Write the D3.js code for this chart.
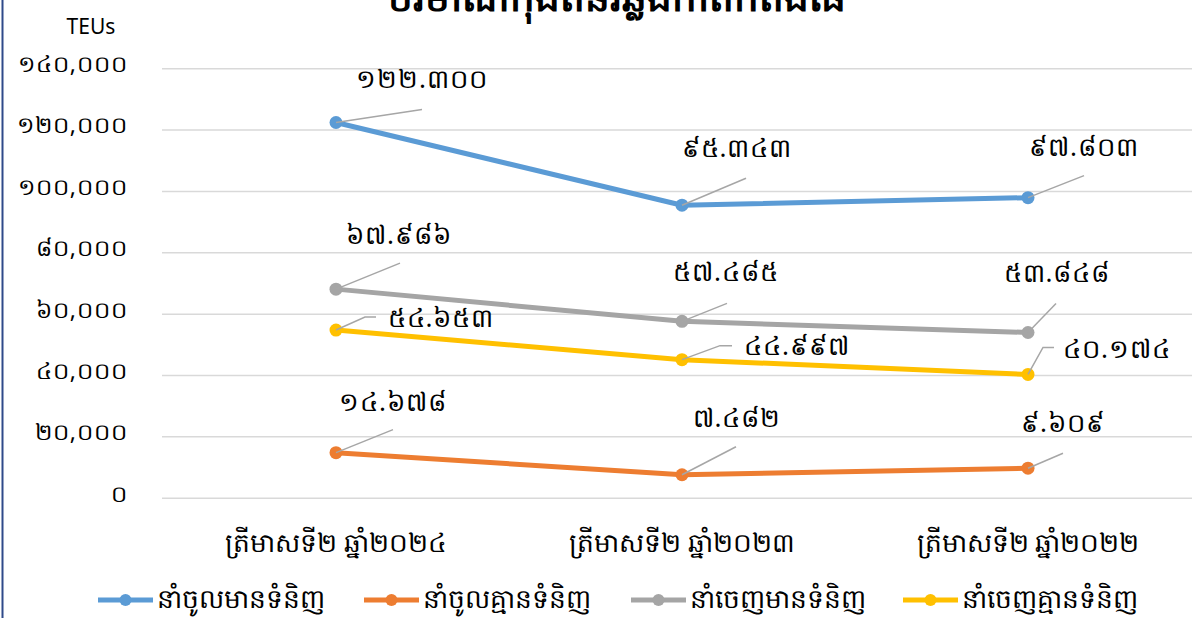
<!DOCTYPE html>
<html>
<head>
<meta charset="utf-8">
<script src="https://cdnjs.cloudflare.com/ajax/libs/d3/7.8.5/d3.min.js"></script>
<style>
  body { margin: 0; background: #fff; overflow: hidden; }
  text { font-family: "Noto Sans", "DejaVu Sans", sans-serif; fill: #000; }
</style>
</head>
<body>
<div id="chart"></div>
<script>
// chart data
var categories = ["ត្រីមាសទី២ ឆ្នាំ២០២៤", "ត្រីមាសទី២ ឆ្នាំ២០២៣", "ត្រីមាសទី២ ឆ្នាំ២០២២"];
var seriesNames = ["នាំចូលមានទំនិញ", "នាំចូលគ្មានទំនិញ", "នាំចេញមានទំនិញ", "នាំចេញគ្មានទំនិញ"];
var importFull = [122300, 95343, 97803];
var importEmpty = [14678, 7482, 9609];
var exportFull = [67986, 57485, 53848];
var exportEmpty = [54653, 44997, 40174];
var yTicks = [0, 20000, 40000, 60000, 80000, 100000, 120000, 140000];
var titleText = "បរិមាណកុងតឺន័រឆ្លងកាត់កំពង់ផែ";
var unitText = "TEUs";

// colours
var colors = ["#5B9BD5", "#ED7D31", "#A5A5A5", "#FFC000"];

// label placement relative to the point: [label dx, label dy, leader dx, leader dy, elbow]
var labelOffsets = [
  [[86, -44, 86, -13, 0], [55, -57, 64, -27, 0], [56, -51, 56, -22, 0]],
  [[57, -51, 57, -23, 0], [55, -57, 54, -28, 0], [35, -45, 35, -15, 0]],
  [[63, -54, 64, -26, 0], [44, -49, 45, -18, 0], [29, -60, 28, -29, 0]],
  [[105, -12, 29, -13, 11], [115, -14, 38, -14, 12], [89, -26, 15, -27, 11]]
];

var svgWidth = 1192;
var svgHeight = 618;

var khmerDigits = ["០", "១", "២", "៣", "៤", "៥", "៦", "៧", "៨", "៩"];
var axisFormat = d3.formatLocale({decimal: ".", thousands: ",", grouping: [3], currency: ["", ""], numerals: khmerDigits}).format(",");
var labelFormat = d3.formatLocale({decimal: ",", thousands: ".", grouping: [3], currency: ["", ""], numerals: khmerDigits}).format(",");

var svg = d3.select("#chart").append("svg")
  .attr("width", svgWidth)
  .attr("height", svgHeight);

// scales
var xScale = d3.scaleBand()
  .domain(categories)
  .range([163, 1201]);

var yScale = d3.scaleLinear()
  .domain([0, 140000])
  .range([497.7, 68.2]);

var xPos = function(c) { return xScale(c) + xScale.bandwidth() / 2; };

// gridlines + y labels
var yAxis = d3.axisLeft(yScale)
  .tickValues(yTicks)
  .tickSize(-(svgWidth - 162))
  .tickPadding(34)
  .tickFormat(axisFormat);

var yAxisG = svg.append("g")
  .attr("transform", "translate(162,0)")
  .call(yAxis);
yAxisG.select(".domain").remove();
yAxisG.selectAll(".tick line").attr("stroke", "#D9D9D9").attr("stroke-width", 1.5);
yAxisG.selectAll(".tick text")
  .attr("font-size", 23)
  .attr("dy", "0.32em")
  .attr("y", -4)
  .attr("fill", "#000")
  .style("letter-spacing", "1px");

// x labels
var xAxis = d3.axisBottom(xScale).tickSize(0).tickPadding(0);
var xAxisG = svg.append("g")
  .attr("transform", "translate(0,536)")
  .call(xAxis);
xAxisG.select(".domain").remove();
xAxisG.selectAll(".tick text")
  .attr("font-size", 26.5)
  .attr("dy", "0.6em")
  .attr("fill", "#000");

// unit + title
svg.append("text")
  .attr("x", 91)
  .attr("y", 34)
  .attr("text-anchor", "middle")
  .attr("font-size", 21)
  .text(unitText);

svg.append("text")
  .attr("x", 617)
  .attr("y", 11)
  .attr("text-anchor", "middle")
  .attr("font-size", 39)
  .attr("font-weight", "bold")
  .text(titleText);

// series
var allSeries = [importFull, importEmpty, exportFull, exportEmpty];

var line = d3.line()
  .x(function(d, i) { return xPos(categories[i]); })
  .y(function(d) { return yScale(d); });

allSeries.forEach(function(values, s) {
  var g = svg.append("g");

  g.append("path")
    .datum(values)
    .attr("d", line)
    .attr("fill", "none")
    .attr("stroke", colors[s])
    .attr("stroke-width", 5)
    .attr("stroke-linejoin", "round");

  g.selectAll("circle")
    .data(values)
    .enter()
    .append("circle")
    .attr("cx", function(d, i) { return xPos(categories[i]); })
    .attr("cy", function(d) { return yScale(d); })
    .attr("r", 6.5)
    .attr("fill", colors[s]);
});

// data labels with leader lines
allSeries.forEach(function(values, s) {
  var g = svg.append("g");
  values.forEach(function(v, i) {
    var px = xPos(categories[i]);
    var py = yScale(v);
    var o = labelOffsets[s][i];
    var pts = [[px, py], [px + o[2], py + o[3]]];
    if (o[4]) pts.push([px + o[2] + o[4], py + o[3]]);

    g.append("path")
      .attr("d", d3.line()(pts))
      .attr("fill", "none")
      .attr("stroke", "#A6A6A6")
      .attr("stroke-width", 1.5);

    g.append("text")
      .attr("x", px + o[0])
      .attr("y", py + o[1])
      .attr("dy", "0.35em")
      .attr("text-anchor", "middle")
      .attr("font-size", 26)
      .style("letter-spacing", "1px")
      .text(labelFormat(v));
  });
});

// legend
var legendX = [98, 364, 631, 903];
var legend = svg.append("g").attr("transform", "translate(0,600)");
seriesNames.forEach(function(name, s) {
  var lg = legend.append("g").attr("transform", "translate(" + legendX[s] + ",0)");
  lg.append("line")
    .attr("x1", 0).attr("x2", 55)
    .attr("stroke", colors[s])
    .attr("stroke-width", 5);
  lg.append("circle")
    .attr("cx", 27.5)
    .attr("r", 6)
    .attr("fill", colors[s]);
  lg.append("text")
    .attr("x", 59)
    .attr("dy", "0.3em")
    .attr("font-size", 26.5)
    .text(name);
});

// left border of the chart area
svg.append("line")
  .attr("x1", 2.5).attr("x2", 2.5)
  .attr("y1", 0).attr("y2", svgHeight)
  .attr("stroke", "#2F4A8A")
  .attr("stroke-width", 2);
</script>
</body>
</html>
